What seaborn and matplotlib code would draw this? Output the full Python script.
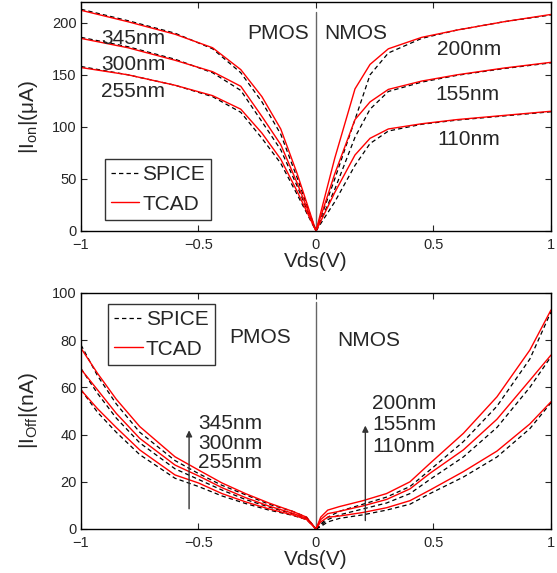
import numpy as np
import pandas as pd
import matplotlib
matplotlib.use("Agg")
import matplotlib.pyplot as plt
import seaborn as sns
from matplotlib.lines import Line2D

sns.set_style("ticks")
plt.rcParams['font.family'] = ['Liberation Sans', 'DejaVu Sans']
plt.rcParams['mathtext.default'] = 'regular'

# ---------------- data: on-current (uA) ----------------
vp_on = [-1, -0.8, -0.6, -0.44, -0.32, -0.23, -0.15, -0.08, 0]
pmos_labels = ["345nm", "300nm", "255nm"]
pmos_on_tcad_345 = [212, 201, 189, 176, 155, 129, 98, 55, 0]
pmos_on_tcad_300 = [185, 176, 164, 153, 139, 110, 83, 46, 0]
pmos_on_tcad_255 = [157, 150, 140, 130, 117, 94, 69, 38, 0]
pmos_on_spice_345 = [213, 202, 190, 175, 152, 124, 93, 51, 0]
pmos_on_spice_300 = [186, 177, 165, 152, 135, 105, 78, 43, 0]
pmos_on_spice_255 = [158, 150, 140, 129, 114, 89, 65, 35, 0]

vn_on = [0, 0.08, 0.166, 0.23, 0.308, 0.45, 0.6, 0.8, 1.0]
nmos_labels = ["200nm", "155nm", "110nm"]
nmos_on_tcad_200 = [0, 70, 136.5, 160, 175, 186, 193, 201, 208]
nmos_on_tcad_155 = [0, 55, 107, 124, 136, 144, 150, 156.5, 162]
nmos_on_tcad_110 = [0, 37, 73, 89, 98, 103, 107, 111, 115]
nmos_on_spice_200 = [0, 50, 107, 150, 171, 185, 193, 201, 207.5]
nmos_on_spice_155 = [0, 40, 90, 117, 134, 143, 149.5, 156, 161.5]
nmos_on_spice_110 = [0, 28, 63, 84, 96, 102.5, 106.5, 110.5, 114.5]

# ---------------- data: off-current (nA) ----------------
vp_off = [-1, -0.93, -0.85, -0.75, -0.6, -0.5, -0.4, -0.3, -0.2, -0.1, -0.04, 0]
pmos_off_tcad_345 = [76.6, 66, 55, 43.4, 30.6, 25, 19.5, 15, 11, 7.5, 5, 0]
pmos_off_tcad_300 = [67.7, 59, 49, 38.4, 27.1, 22.5, 17.5, 13.3, 9.7, 6.7, 4.5, 0]
pmos_off_tcad_255 = [58.9, 51, 43, 33.5, 22.9, 19.5, 15, 11.5, 8.5, 6, 4, 0]
pmos_off_spice_345 = [78, 65, 53, 41, 29, 23.5, 18.5, 14.5, 10.5, 7.5, 5, 0]
pmos_off_spice_300 = [68, 57.5, 47, 36.5, 25.5, 21, 16.5, 12.5, 9.3, 6.5, 4.5, 0]
pmos_off_spice_255 = [59, 49.5, 41, 31.5, 21.5, 18, 14, 10.8, 8, 5.8, 4, 0]

vn_off = [0, 0.02, 0.05, 0.1, 0.2, 0.3, 0.4, 0.485, 0.627, 0.77, 0.91, 1.0]
nmos_off_tcad_200 = [0, 5, 8, 9.5, 12, 15, 20, 27.8, 40.5, 56, 75.8, 92.8]
nmos_off_tcad_155 = [0, 4, 6.5, 7.5, 9.8, 12.5, 17, 23.6, 33.5, 46.5, 63, 73.7]
nmos_off_tcad_110 = [0, 3, 5, 5.5, 7, 9, 12, 16.5, 24.3, 33, 44.5, 53.9]
nmos_off_spice_200 = [0, 2, 5, 7.5, 10.5, 13.5, 18, 25, 37, 52, 72, 92]
nmos_off_spice_155 = [0, 1.5, 4, 6, 8.5, 11, 15, 21, 30.5, 43, 60, 73]
nmos_off_spice_110 = [0, 1, 3, 4.5, 6, 8, 10.5, 15, 22, 30.5, 42.5, 53.5]

x_ticks = [-1, -0.5, 0, 0.5, 1]
x_ticklabels = ["\u22121", "\u22120.5", "0", "0.5", "1"]
on_yticks = [0, 50, 100, 150, 200]
off_yticks = [0, 20, 40, 60, 80, 100]

RED = "#ff0000"
DASH = "#000000"

fig = plt.figure(figsize=(5.57, 5.73), dpi=100)
ax1 = fig.add_axes([0.1454, 0.5969, 0.8438, 0.3997])
ax2 = fig.add_axes([0.1454, 0.0768, 0.8438, 0.4119])


def draw(ax, x, spice, tcad):
    sns.lineplot(x=x, y=spice, ax=ax, color=DASH, lw=0.9, estimator=None, sort=False)
    ax.lines[-1].set_dashes([3.5, 2.5])
    sns.lineplot(x=x, y=tcad, ax=ax, color=RED, lw=1.0, estimator=None, sort=False)


for sp, tc in [(pmos_on_spice_345, pmos_on_tcad_345), (pmos_on_spice_300, pmos_on_tcad_300),
               (pmos_on_spice_255, pmos_on_tcad_255)]:
    draw(ax1, vp_on, sp, tc)
for sp, tc in [(nmos_on_spice_200, nmos_on_tcad_200), (nmos_on_spice_155, nmos_on_tcad_155),
               (nmos_on_spice_110, nmos_on_tcad_110)]:
    draw(ax1, vn_on, sp, tc)
for sp, tc in [(pmos_off_spice_345, pmos_off_tcad_345), (pmos_off_spice_300, pmos_off_tcad_300),
               (pmos_off_spice_255, pmos_off_tcad_255)]:
    draw(ax2, vp_off, sp, tc)
for sp, tc in [(nmos_off_spice_200, nmos_off_tcad_200), (nmos_off_spice_155, nmos_off_tcad_155),
               (nmos_off_spice_110, nmos_off_tcad_110)]:
    draw(ax2, vn_off, sp, tc)

ax1.axvline(0, ymin=0, ymax=0.955, color="#666666", lw=1.0, zorder=1)
ax2.axvline(0, ymin=0, ymax=0.963, color="#666666", lw=1.0, zorder=1)

FS = 15
for ax, ylim, yt, ylab in [(ax1, (0, 220), on_yticks, "|I$_{on}$|(\u03bcA)"),
                           (ax2, (0, 100), off_yticks, "|I$_{Off}$|(nA)")]:
    ax.set_xlim(-1, 1)
    ax.set_ylim(*ylim)
    ax.set_xticks(x_ticks)
    ax.set_xticklabels(x_ticklabels)
    ax.set_yticks(yt)
    ax.tick_params(direction="in", top=True, right=True, labelsize=10.5, length=4,
                   width=0.8)
    ax.tick_params(axis="x", pad=5)
    ax.tick_params(axis="y", pad=3)
    for s in ax.spines.values():
        s.set_linewidth(1.0)
        s.set_color("black")
    ax.set_xlabel("Vds(V)", fontsize=FS, labelpad=0)
    ax.set_ylabel(ylab, fontsize=FS, labelpad=9)

handles = [Line2D([], [], color=DASH, lw=0.9, dashes=[3.5, 2.5]),
           Line2D([], [], color=RED, lw=1.0)]
for ax, loc, anchor in [(ax1, "lower left", (0.051, 0.048)),
                        (ax2, "upper left", (0.058, 0.953))]:
    leg = ax.legend(handles, ["SPICE", "TCAD"], loc=loc, bbox_to_anchor=anchor,
                    fontsize=FS, frameon=True, fancybox=False, handlelength=1.35,
                    handletextpad=0.15, borderpad=0.3, labelspacing=0.5,
                    borderaxespad=0)
    leg.get_frame().set_edgecolor("black")
    leg.get_frame().set_linewidth(1.0)

# top panel text
ax1.text(-0.16, 190, "PMOS", fontsize=FS, ha="center", va="center")
ax1.text(0.17, 190, "NMOS", fontsize=FS, ha="center", va="center")
for lab, y in zip(pmos_labels, [185, 160, 134]):
    ax1.text(-0.915, y, lab, fontsize=FS, ha="left", va="center")
for lab, y, x in zip(nmos_labels, [174, 131.5, 87.5], [0.515, 0.506, 0.515]):
    ax1.text(x, y, lab, fontsize=FS, ha="left", va="center")

# bottom panel text
ax2.text(-0.37, 81, "PMOS", fontsize=FS, ha="left", va="center")
ax2.text(0.09, 80, "NMOS", fontsize=FS, ha="left", va="center")
for lab, y in zip(pmos_labels, [44.5, 36.3, 28]):
    ax2.text(-0.5, y, lab, fontsize=FS, ha="left", va="center")
for lab, y in zip(nmos_labels, [53.3, 44.2, 35]):
    ax2.text(0.24, y, lab, fontsize=FS, ha="left", va="center")
ax2.annotate("", xy=(-0.54, 43), xytext=(-0.54, 7.4),
             arrowprops=dict(arrowstyle="-|>", color="#333333", lw=1.0, mutation_scale=9))
ax2.annotate("", xy=(0.21, 45), xytext=(0.21, 2.4),
             arrowprops=dict(arrowstyle="-|>", color="#333333", lw=1.0, mutation_scale=9))

fig.savefig("out.png", dpi=100)
